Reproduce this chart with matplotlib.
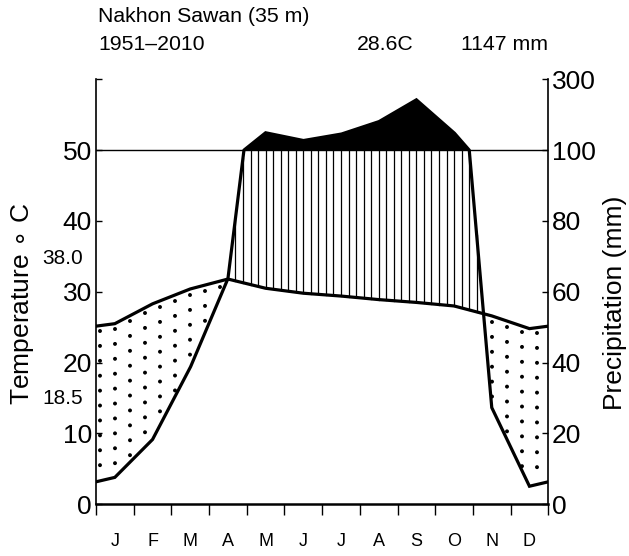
import numpy as np
import matplotlib
matplotlib.use('Agg')
import matplotlib.pyplot as plt

plt.rcParams['font.family'] = ['Liberation Sans', 'DejaVu Sans']

# monthly climate normals, Nakhon Sawan
months = ['J', 'F', 'M', 'A', 'M', 'J', 'J', 'A', 'S', 'O', 'N', 'D']
temp = [25.5, 28.3, 30.4, 31.8, 30.5, 29.8, 29.4, 28.9, 28.5, 28.0, 26.6, 24.8]
prec = [7.6, 18.3, 38.6, 63.7, 149, 127, 145, 180, 242, 149, 27.3, 5.1]
station = 'Nakhon Sawan (35 m)'
period = '1951\u20132010'
mean_temp = '28.6C'
total_prec = '1147 mm'
abs_max = '38.0'
abs_min = '18.5'
left_labels = ['0', '10', '20', '30', '40', '50', '']
right_labels = ['0', '20', '40', '60', '80', '100', '300']


def prec_scale(p):
    # 20 mm = 10 C below 100 mm, compressed 1:20 above
    p = np.asarray(p, dtype=float)
    return np.where(p <= 100, p / 2.0, 50 + (p - 100) / 20.0)


# month centres, curve wrapped to the edges of the year
xm = np.arange(12) + 0.5
xe = np.concatenate([[0], xm, [12]])
t_edge = (temp[0] + temp[-1]) / 2
p_edge = (prec[0] + prec[-1]) / 2
te = np.concatenate([[t_edge], temp, [t_edge]])
pe = np.concatenate([[p_edge], prec, [p_edge]])

xd = np.linspace(0, 12, 2401)
pd_s = prec_scale(np.interp(xd, xe, pe))

W, H = 629, 556
fig = plt.figure(figsize=(W / 100, H / 100), dpi=100)
ax = fig.add_axes([96 / W, (H - 504.3) / H, (548.3 - 96) / W, (504.3 - 79.3) / H])
ax.set_xlim(0, 12)
ax.set_ylim(0, 60)

# dry season: dotted verticals
for x in np.arange(0.1, 12, 0.4):
    t = np.interp(x, xe, te)
    p = float(prec_scale(np.interp(x, xe, pe)))
    if p < t - 0.8:
        ax.plot([x, x], [t - 0.8, p + 0.3], color='black', lw=2.9,
                linestyle=(0, (0.001, 3.7)), dash_capstyle='round', zorder=2)

# humid season: thin vertical hatch
for x in np.arange(0.1, 12, 0.2):
    t = np.interp(x, xe, te)
    p = float(prec_scale(np.interp(x, xe, pe)))
    if p > t:
        ax.plot([x, x], [t, min(p, 50)], color='black', lw=0.9, zorder=2)

# very wet (> 100 mm): solid black
ax.fill_between(xd, 50, pd_s, where=pd_s > 50, color='black', lw=0, zorder=3)
ax.axhline(50, color='black', lw=1.0, zorder=3)

ax.plot(xe, te, color='black', lw=2.3, solid_joinstyle='miter', zorder=4)
ax.plot(xd, pd_s, color='black', lw=2.3, solid_joinstyle='miter', zorder=4)

# axes cosmetics
ax.spines['top'].set_visible(False)
ax.spines['right'].set_visible(False)
ax.spines['left'].set_linewidth(1.2)
ax.spines['bottom'].set_linewidth(1.8)
ax.set_xticks(range(13))
ax.set_xticklabels([''] * 13)
ax.tick_params(axis='x', which='major', direction='out', length=8, width=1)
ax.set_xticks(xm, minor=True)
ax.set_xticklabels(months, minor=True, fontsize=13)
ax.tick_params(axis='x', which='minor', length=0, pad=21)
ax.set_yticks(range(0, 61, 10))
ax.set_yticklabels(left_labels, fontsize=19)
ax.tick_params(axis='y', direction='in', length=4.5, width=1, pad=3)

ax2 = ax.twinx()
ax2.set_ylim(0, 60)
ax2.set_yticks(range(0, 61, 10))
ax2.set_yticklabels(right_labels, fontsize=19)
ax2.tick_params(axis='y', direction='in', length=4.5, width=1, pad=2.5)
for s in ['top', 'bottom', 'left']:
    ax2.spines[s].set_visible(False)
ax2.spines['right'].set_linewidth(1.2)


def px(x, y):
    return x / W, 1 - y / H


fig.text(*px(98, 17), station, fontsize=15.3, va='center', ha='left')
fig.text(*px(98, 44), period, fontsize=15.3, va='center', ha='left')
fig.text(*px(357, 44), mean_temp, fontsize=15.3, va='center', ha='left')
fig.text(*px(461, 44), total_prec, fontsize=15.3, va='center', ha='left')
fig.text(*px(83, 258), abs_max, fontsize=15, va='center', ha='right')
fig.text(*px(83, 398), abs_min, fontsize=15, va='center', ha='right')
fig.text(*px(23, 304), r'Temperature $\circ$ C', fontsize=19, rotation=90,
         va='center', ha='center')
fig.text(*px(615, 303), 'Precipitation (mm)', fontsize=19, rotation=90,
         va='center', ha='center')

fig.savefig('out.png', dpi=100)
